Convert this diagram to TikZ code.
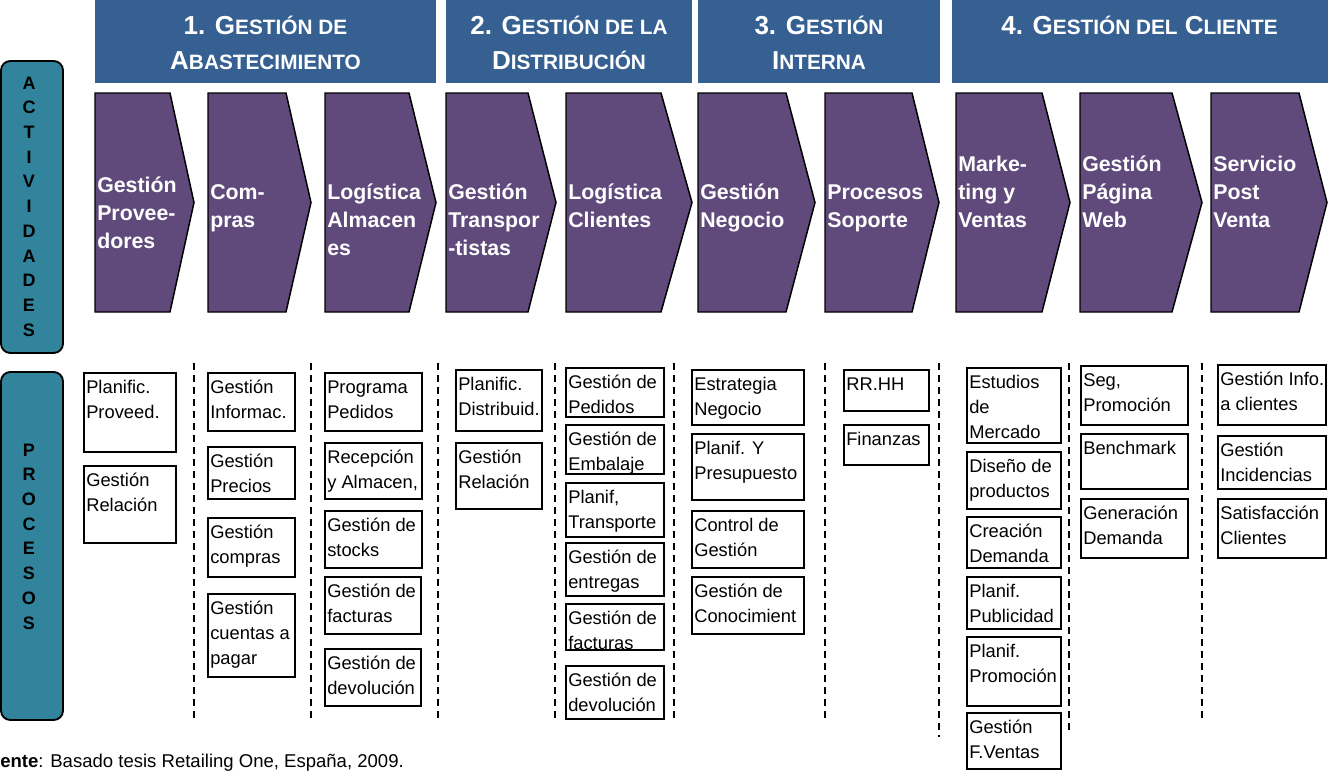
\documentclass[tikz,border=0pt]{standalone}
\usepackage{fontspec}
\setmainfont{Liberation Sans}
\definecolor{hdrblue}{RGB}{54,96,146}
\definecolor{chevpurple}{RGB}{96,74,123}
\definecolor{sideteal}{RGB}{49,132,155}
\newcommand\hdrsc[1]{{\fontsize{15.6}{26.25}\selectfont #1}}
\begin{document}
	\begin{tikzpicture}[
			x=0.75pt, y=-0.75pt,
			hdr/.style={fill=hdrblue},
			hdrtext/.style={text=white, font=\bfseries\fontsize{19.5}{26.25}\selectfont, align=center, anchor=north, inner sep=0},
			chev/.style={fill=chevpurple, draw=black, line width=1.1pt},
			chevtext/.style={text=white, font=\bfseries\fontsize{16}{21.25}\selectfont, align=left, anchor=north west, inner sep=0},
			side/.style={fill=sideteal, draw=black, line width=1.4pt, rounded corners=7pt},
			sideletter/.style={font=\bfseries\fontsize{13.5}{16}\selectfont, inner sep=0},
			proc/.style={draw=black, line width=1.1pt},
			proctext/.style={font=\fontsize{13.75}{18.75}\selectfont, align=left, anchor=north west, inner sep=0},
			sep/.style={dash pattern=on 5.5pt off 3.5pt, line width=1.1pt}
		]
		\useasboundingbox (0,0) rectangle (1328,771);
		% cabeceras
		\fill[hdr] (95,0) rectangle (436,83);
		\fill[hdr] (446,0) rectangle (692,83);
		\fill[hdr] (698,0) rectangle (940,83);
		\fill[hdr] (952,0) rectangle (1328,83);
		\node[hdrtext] (h1) at (265.5,9.5) {\strut 1. G\hdrsc{ESTIÓN DE}\\A\hdrsc{BASTECIMIENTO}};
		\node[hdrtext] (h2) at (569,9.5) {\strut 2. G\hdrsc{ESTIÓN DE LA}\\D\hdrsc{ISTRIBUCIÓN}};
		\node[hdrtext] (h3) at (819,9.5) {\strut 3. G\hdrsc{ESTIÓN}\\I\hdrsc{NTERNA}};
		\node[hdrtext] (h4) at (1139.5,9.5) {\strut 4. G\hdrsc{ESTIÓN DEL} C\hdrsc{LIENTE}};
		% columnas laterales
		\draw[side] (1,61) rectangle (63,353);
		\draw[side] (1,372) rectangle (63,720);
		\foreach \l [count=\i] in {A,C,T,I,V,I,D,A,D,E,S}
			\node[sideletter] (a\i) at (29,{83+(\i-1)*24.7}) {\l};
		\foreach \l [count=\i] in {P,R,O,C,E,S,O,S}
			\node[sideletter] (s\i) at (29,{450+(\i-1)*24.7}) {\l};
		% actividades
		\foreach \xa/\xb/\xc/\yb/\txt [count=\i] in {
				95/170/194/192/{Gestión\\Provee-\\dores},
				208/286/311/199/{Com-\\pras},
				325/409/436/199/{Logística\\Almacen\\es},
				446/528/556/199/{Gestión\\Transpor\\-tistas},
				566/661/692/199/{Logística\\Clientes},
				698/786/815/199/{Gestión\\Negocio},
				825/912/939/199/{Procesos\\Soporte},
				956/1042/1070/171/{Marke-\\ting y\\Ventas},
				1080/1172/1202/171/{Gestión\\Página\\Web},
				1211/1299/1327/171/{Servicio\\Post\\Venta}} {
			\draw[chev] (\xa,93) -- (\xb,93) -- (\xc,202.5) -- (\xb,312) -- (\xa,312) -- cycle;
			\node[chevtext] (c\i) at (\xa+2,\yb-19.8) {\strut\txt};
		}
		% separadores
		\foreach \x/\yb in {194/718, 311/718, 438/718, 555/718, 674/718, 825/718, 939/737, 1069/733, 1202/718}
			\draw[sep] (\x,363) -- (\x,\yb);
		% procesos
		\foreach \xa/\ya/\xb/\yb/\txt [count=\i] in {
				84/373/176/452/{Planific.\\Proveed.},
				84/466/176/543/{Gestión\\Relación},
				208/373/295/431/{Gestión\\Informac.},
				208/447/295/499/{Gestión\\Precios},
				208/518/295/577/{Gestión\\compras},
				208/594/295/677/{Gestión\\cuentas a\\pagar},
				325/373/422/431/{Programa\\Pedidos},
				325/443/422/499/{Recepción\\y Almacen,},
				325/511/422/568/{Gestión de\\stocks},
				325/577/421/634/{Gestión de\\facturas},
				325/649/421/706/{Gestión de\\devolución},
				456/370/542/431/{Planific.\\Distribuid.},
				456/443/542/509/{Gestión\\Relación},
				566/368/664/417/{Gestión de\\Pedidos},
				566/425/664/474/{Gestión de\\Embalaje},
				566/483/664/537/{Planif,\\Transporte},
				566/543/664/596/{Gestión de\\entregas},
				566/604/664/650/{Gestión de\\facturas},
				566/666/664/719/{Gestión de\\devolución},
				692/370/804/425/{Estrategia\\Negocio},
				692/434/804/500/{Planif. Y\\Presupuesto},
				692/511/804/568/{Control de\\Gestión},
				692/577/804/634/{Gestión de\\Conocimient},
				844/370/929/411/{RR.HH},
				844/425/929/465/{Finanzas},
				967/368/1061/443/{Estudios\\de\\Mercado},
				967/452/1061/509/{Diseño de\\productos},
				967/517/1061/568/{Creación\\Demanda},
				967/577/1061/629/{Planif.\\Publicidad},
				967/637/1061/706/{Planif.\\Promoción},
				967/713/1061/769/{Gestión\\F.Ventas},
				1081/366/1188/425/{Seg,\\Promoción},
				1081/434/1188/489/{Benchmark},
				1081/499/1188/558/{Generación\\Demanda},
				1218/365/1326/425/{Gestión Info.\\a clientes},
				1218/436/1326/489/{Gestión\\Incidencias},
				1218/499/1326/558/{Satisfacción\\Clientes}} {
			\draw[proc] (\xa,\ya) rectangle (\xb,\yb);
			\node[proctext] (p\i) at (\xa+2,\ya+2.5) {\strut\txt};
		}
		% fuente
		\node[anchor=base west, inner sep=0, font=\fontsize{13.9}{16}\selectfont] (src) at (0,767) {\textbf{ente}: Basado tesis Retailing One, España, 2009.};
	\end{tikzpicture}
\end{document}
